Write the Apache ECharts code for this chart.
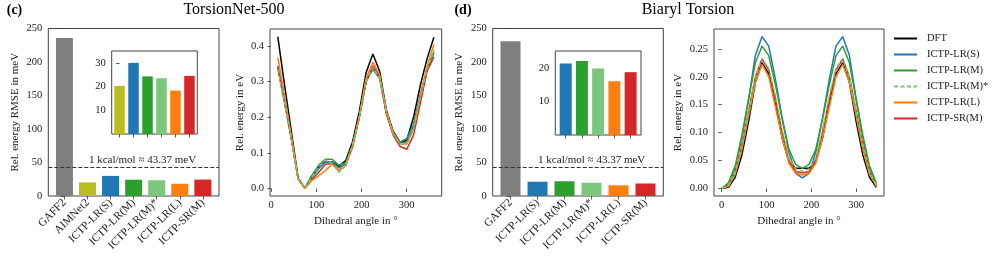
<!DOCTYPE html>
<html>
<head>
<meta charset="utf-8">
<script src="https://cdn.jsdelivr.net/npm/echarts@6/dist/echarts.min.js"></script>
<style>
html,body{margin:0;padding:0;background:#fff;}
#chart{width:997px;height:266px;}
</style>
</head>
<body>
<div id="chart"></div>
<script>
// ---------------- data ----------------
const barCatsC = ['GAFF2', 'AIMNet2', 'ICTP-LR(S)', 'ICTP-LR(M)', 'ICTP-LR(M)*', 'ICTP-LR(L)', 'ICTP-SR(M)'];
const barValsC = [236, 20.3, 30.0, 24.3, 23.5, 18.3, 24.5];
const barCatsD = ['GAFF2', 'ICTP-LR(S)', 'ICTP-LR(M)', 'ICTP-LR(M)*', 'ICTP-LR(L)', 'ICTP-SR(M)'];
const barValsD = [231, 21.3, 22.0, 19.8, 16.0, 18.7];

const insetTicksC = [10, 20, 30];
const insetTicksD = [10, 20];
const barTicksMain = [0, 50, 100, 150, 200, 250];

const anglesC = [15, 30, 45, 60, 75, 90, 105, 120, 135, 150, 165, 180, 195, 210, 225, 240, 255, 270, 285, 300, 315, 330, 345, 360];
const anglesD = [0, 15, 30, 45, 60, 75, 90, 105, 120, 135, 150, 165, 180, 195, 210, 225, 240, 255, 270, 285, 300, 315, 330, 345];
const angleTicks = [0, 100, 200, 300];
const energyTicksC = [0, 0.1, 0.2, 0.3, 0.4];
const energyTicksD = [0, 0.05, 0.10, 0.15, 0.20, 0.25];

// TorsionNet-500 profiles (eV)
const dftC   = [0.427, 0.290, 0.160, 0.028, 0.000, 0.035, 0.060, 0.075, 0.075, 0.062, 0.078, 0.130, 0.215, 0.325, 0.378, 0.330, 0.220, 0.160, 0.130, 0.135, 0.200, 0.290, 0.365, 0.425];
const lrSC   = [0.338, 0.240, 0.140, 0.027, 0.000, 0.030, 0.055, 0.075, 0.075, 0.058, 0.070, 0.120, 0.200, 0.300, 0.335, 0.310, 0.210, 0.155, 0.130, 0.140, 0.180, 0.265, 0.335, 0.380];
const lrMC   = [0.340, 0.245, 0.140, 0.027, 0.000, 0.035, 0.065, 0.082, 0.082, 0.065, 0.072, 0.120, 0.200, 0.300, 0.340, 0.315, 0.215, 0.155, 0.128, 0.130, 0.172, 0.258, 0.335, 0.385];
const lrMsC  = [0.335, 0.240, 0.140, 0.027, 0.000, 0.030, 0.060, 0.080, 0.070, 0.045, 0.065, 0.120, 0.200, 0.300, 0.340, 0.310, 0.215, 0.155, 0.125, 0.125, 0.168, 0.255, 0.335, 0.390];
const lrLC   = [0.368, 0.260, 0.145, 0.025, 0.000, 0.022, 0.035, 0.050, 0.068, 0.050, 0.065, 0.120, 0.200, 0.310, 0.355, 0.320, 0.215, 0.155, 0.125, 0.125, 0.165, 0.260, 0.345, 0.405];
const srMC   = [0.345, 0.250, 0.140, 0.027, 0.000, 0.025, 0.045, 0.068, 0.070, 0.050, 0.065, 0.115, 0.200, 0.300, 0.345, 0.315, 0.210, 0.150, 0.118, 0.110, 0.150, 0.240, 0.330, 0.370];

// Biaryl torsion profiles (eV)
const dftD   = [0.000, 0.002, 0.020, 0.060, 0.120, 0.190, 0.225, 0.205, 0.150, 0.090, 0.048, 0.036, 0.036, 0.036, 0.048, 0.090, 0.150, 0.205, 0.225, 0.190, 0.120, 0.060, 0.020, 0.002];
const lrSD   = [0.000, 0.007, 0.035, 0.090, 0.160, 0.238, 0.272, 0.255, 0.195, 0.125, 0.065, 0.027, 0.019, 0.027, 0.065, 0.125, 0.195, 0.255, 0.272, 0.238, 0.160, 0.090, 0.035, 0.007];
const lrMD   = [0.000, 0.010, 0.040, 0.095, 0.160, 0.225, 0.255, 0.238, 0.185, 0.125, 0.070, 0.043, 0.036, 0.043, 0.070, 0.125, 0.185, 0.238, 0.255, 0.225, 0.160, 0.095, 0.040, 0.010];
const lrMsD  = [0.000, 0.006, 0.030, 0.080, 0.140, 0.200, 0.233, 0.215, 0.165, 0.105, 0.055, 0.035, 0.031, 0.035, 0.055, 0.105, 0.165, 0.215, 0.233, 0.200, 0.140, 0.080, 0.030, 0.006];
const lrLD   = [0.000, 0.004, 0.025, 0.070, 0.130, 0.190, 0.222, 0.200, 0.145, 0.090, 0.045, 0.027, 0.024, 0.027, 0.045, 0.090, 0.145, 0.200, 0.222, 0.190, 0.130, 0.070, 0.025, 0.004];
const srMD   = [0.000, 0.005, 0.028, 0.078, 0.138, 0.200, 0.232, 0.212, 0.160, 0.100, 0.050, 0.030, 0.028, 0.030, 0.050, 0.100, 0.160, 0.212, 0.232, 0.200, 0.138, 0.078, 0.028, 0.005];

const legendNames = ['DFT', 'ICTP-LR(S)', 'ICTP-LR(M)', 'ICTP-LR(M)*', 'ICTP-LR(L)', 'ICTP-SR(M)'];

// ---------------- styles ----------------
const colors = {
  'GAFF2': '#7f7f7f', 'AIMNet2': '#bcbd22', 'DFT': '#000000',
  'ICTP-LR(S)': '#1f77b4', 'ICTP-LR(M)': '#2ca02c', 'ICTP-LR(M)*': '#7bc77b',
  'ICTP-LR(L)': '#ff7f0e', 'ICTP-SR(M)': '#d62728'
};
const FONT = "'Liberation Serif', 'DejaVu Serif', serif";
const TXT = '#1a1a1a';
const AX = '#333';

function valAxis(gi, min, max, ticks, fmt, o) {
  o = o || {};
  return Object.assign({
    type: 'value', gridIndex: gi, min: min, max: max,
    splitLine: { show: false },
    axisLine: { show: false },
    axisTick: { show: true, inside: false, length: 3.5, lineStyle: { color: AX, width: 0.8 }, customValues: ticks },
    axisLabel: { show: o.noLabel ? false : true, customValues: ticks, formatter: fmt, fontFamily: FONT, fontSize: o.fontSize || 10.5, color: TXT, margin: o.margin || 6, rotate: o.rotate || 0 },
    nameTextStyle: { fontFamily: FONT, fontSize: 11, color: TXT }
  }, o.extra || {});
}

function barData(cats, vals, from) {
  const out = [];
  for (let i = from; i < cats.length; i++) {
    out.push({ value: [i - from, vals[i]], itemStyle: { color: colors[cats[i]] } });
  }
  return out;
}
function idx(n) { const a = []; for (let i = 0; i < n; i++) a.push(i); return a; }
function pts(xs, ys) { return xs.map((x, i) => [x, ys[i]]); }

const dashLine = {
  silent: true, symbol: 'none', label: { show: false },
  lineStyle: { type: [4, 2], color: '#333', width: 1.2 },
  data: [{ yAxis: 43.37 }]
};

function lineSeries(name, xs, ys, xi, z, dashed) {
  return {
    type: 'line', name: name, xAxisIndex: xi, yAxisIndex: xi,
    data: pts(xs, ys), symbol: 'none', showSymbol: false, z: z,
    lineStyle: { color: colors[name], width: 1.5, type: dashed ? [4, 2.5] : 'solid' },
    itemStyle: { color: colors[name] }
  };
}

const lineSetC = [['DFT', dftC, 2], ['ICTP-LR(S)', lrSC, 3], ['ICTP-LR(M)', lrMC, 4], ['ICTP-SR(M)', srMC, 5], ['ICTP-LR(L)', lrLC, 6], ['ICTP-LR(M)*', lrMsC, 7]];
const lineSetD = [['DFT', dftD, 2], ['ICTP-LR(S)', lrSD, 3], ['ICTP-LR(M)', lrMD, 4], ['ICTP-SR(M)', srMD, 5], ['ICTP-LR(L)', lrLD, 6], ['ICTP-LR(M)*', lrMsD, 7]];

const series = [
  { type: 'bar', xAxisIndex: 0, yAxisIndex: 0, barWidth: 17, data: barData(barCatsC, barValsC, 0), markLine: dashLine },
  { type: 'bar', xAxisIndex: 1, yAxisIndex: 1, barWidth: 10.5, z: 4, data: barData(barCatsC, barValsC, 1) },
  { type: 'bar', xAxisIndex: 3, yAxisIndex: 3, barWidth: 20, data: barData(barCatsD, barValsD, 0), markLine: dashLine },
  { type: 'bar', xAxisIndex: 4, yAxisIndex: 4, barWidth: 12, z: 4, data: barData(barCatsD, barValsD, 1) }
];
lineSetC.forEach(s => series.push(lineSeries(s[0], anglesC, s[1], 2, s[2], s[0] === 'ICTP-LR(M)*')));
lineSetD.forEach(s => series.push(lineSeries(s[0], anglesD, s[1], 5, s[2], s[0] === 'ICTP-LR(M)*')));

const gridBase = { show: true, borderColor: '#444', borderWidth: 1, backgroundColor: 'transparent', containLabel: false, outerBoundsMode: 'none' };

const option = {
  animation: false,
  backgroundColor: '#fff',
  grid: [
    Object.assign({}, gridBase, { left: 48.3, top: 28.5, width: 170.7, height: 167.5 }),
    Object.assign({}, gridBase, { left: 111.7, top: 51, width: 85.6, height: 83 }),
    Object.assign({}, gridBase, { left: 270, top: 29, width: 171.7, height: 167 }),
    Object.assign({}, gridBase, { left: 492.7, top: 28.5, width: 170.6, height: 167.5 }),
    Object.assign({}, gridBase, { left: 555.3, top: 51, width: 85.7, height: 84 }),
    Object.assign({}, gridBase, { left: 714, top: 29, width: 170, height: 167 })
  ],
  xAxis: [
    valAxis(0, -0.7, 6.7, idx(barCatsC.length), v => barCatsC[Math.round(v)], { rotate: 45, margin: 5, fontSize: 11.3 }),
    valAxis(1, -0.56, 5.56, idx(barCatsC.length - 1), null, { noLabel: true }),
    valAxis(2, -2.25, 377.25, angleTicks, v => String(v), { margin: 4, extra: { name: 'Dihedral angle in °', nameLocation: 'middle', nameGap: 16 } }),
    valAxis(3, -0.66, 5.66, idx(barCatsD.length), v => barCatsD[Math.round(v)], { rotate: 45, margin: 5, fontSize: 11.3 }),
    valAxis(4, -0.64, 4.64, idx(barCatsD.length - 1), null, { noLabel: true }),
    valAxis(5, -17.25, 362.25, angleTicks, v => String(v), { margin: 4, extra: { name: 'Dihedral angle in °', nameLocation: 'middle', nameGap: 16 } })
  ],
  yAxis: [
    valAxis(0, 0, 250, barTicksMain, v => String(v), { extra: { name: 'Rel. energy RMSE in meV', nameLocation: 'middle', nameGap: 28 } }),
    valAxis(1, 0, 35, insetTicksC, v => String(v), {}),
    valAxis(2, -0.02135, 0.44835, energyTicksC, v => v.toFixed(1), { extra: { name: 'Rel. energy in eV', nameLocation: 'middle', nameGap: 24 } }),
    valAxis(3, 0, 250, barTicksMain, v => String(v), { extra: { name: 'Rel. energy RMSE in meV', nameLocation: 'middle', nameGap: 28 } }),
    valAxis(4, 0, 25, insetTicksD, v => String(v), {}),
    valAxis(5, -0.0136, 0.2856, energyTicksD, v => v.toFixed(2), { extra: { name: 'Rel. energy in eV', nameLocation: 'middle', nameGap: 30 } })
  ],
  legend: {
    orient: 'vertical', left: 893, top: 33, padding: 0,
    itemWidth: 23, itemHeight: 10, itemGap: 5.0,
    data: legendNames,
    itemStyle: { opacity: 0, color: 'transparent', borderColor: 'transparent', borderWidth: 0 },
    textStyle: { fontFamily: FONT, fontSize: 10.5, color: TXT, padding: [0, 0, 0, 5] }
  },
  graphic: [
    { type: 'text', x: 14.5, y: 10, style: { text: '(c)', fontFamily: FONT, fontSize: 14, fontWeight: 'bold', fill: '#000', align: 'center', verticalAlign: 'middle' } },
    { type: 'text', x: 463, y: 10, style: { text: '(d)', fontFamily: FONT, fontSize: 14, fontWeight: 'bold', fill: '#000', align: 'center', verticalAlign: 'middle' } },
    { type: 'text', x: 234, y: 10, style: { text: 'TorsionNet-500', fontFamily: FONT, fontSize: 16, fill: '#000', align: 'center', verticalAlign: 'middle' } },
    { type: 'text', x: 688, y: 10, style: { text: 'Biaryl Torsion', fontFamily: FONT, fontSize: 16, fill: '#000', align: 'center', verticalAlign: 'middle' } },
    { type: 'text', x: 142.5, y: 160, z: 10, style: { text: '1 kcal/mol ≈ 43.37 meV', fontFamily: FONT, fontSize: 11, fill: TXT, align: 'center', verticalAlign: 'middle' } },
    { type: 'text', x: 591.7, y: 160, z: 10, style: { text: '1 kcal/mol ≈ 43.37 meV', fontFamily: FONT, fontSize: 11, fill: TXT, align: 'center', verticalAlign: 'middle' } }
  ],
  series: series
};

const chart = echarts.init(document.getElementById('chart'), null, { renderer: 'canvas' });
chart.setOption(option);
</script>
</body>
</html>
